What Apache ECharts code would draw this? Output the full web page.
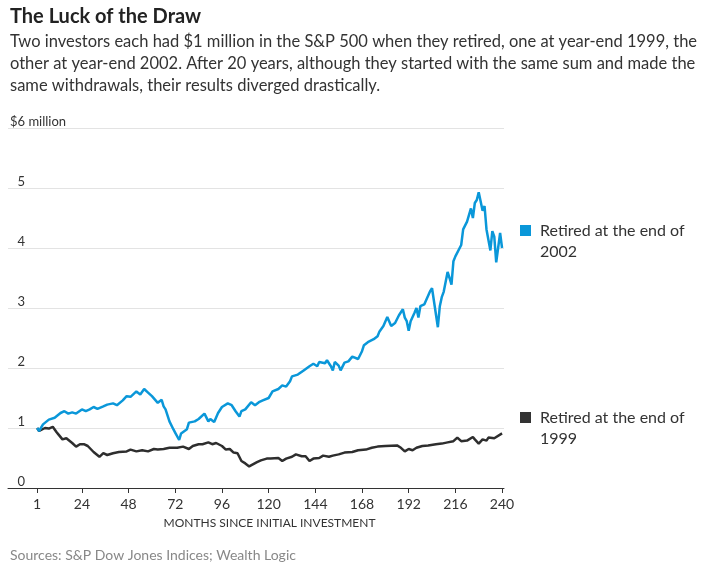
<!DOCTYPE html>
<html>
<head>
<meta charset="utf-8">
<script src="https://cdn.jsdelivr.net/npm/echarts@6/dist/echarts.min.js"></script>
<style>
  html, body { margin: 0; padding: 0; background: #fff; }
  #chart { width: 708px; height: 576px; }
</style>
</head>
<body>
<div id="chart"></div>
<script>
const FONT = 'Lato, "Noto Sans", sans-serif'

// months since initial investment
const monthsRetired2002 = [1, 2, 4, 7, 10, 13, 15, 17, 19, 21, 24, 26, 28, 30, 32, 35, 37, 40, 42, 45, 47, 49, 52, 54, 56, 58, 60, 61, 63, 65, 66, 67, 69, 71, 72, 74, 75, 78, 79, 82, 84, 85, 87, 89, 90, 92, 94, 96, 99, 101, 103, 105, 106, 108, 111, 113, 115, 117, 120, 122, 125, 126, 127, 129, 131, 132, 133, 135, 138, 139, 141, 143, 145, 146, 147, 149, 150, 152, 153, 154, 156, 157, 159, 161, 163, 164, 166, 168, 169, 171, 174, 176, 177, 179, 181, 183, 185, 187, 189, 190, 191, 192, 193, 195, 196, 197, 198, 200, 201, 203, 204, 205, 207, 208, 209, 210, 212, 213, 214, 215, 216, 217, 219, 220, 222, 224, 225, 226, 227, 228, 230, 231, 232, 233, 234, 235, 236, 237, 239, 240]
const retired2002 = [1.00, 0.95, 1.06, 1.14, 1.17, 1.25, 1.28, 1.24, 1.26, 1.24, 1.31, 1.28, 1.31, 1.35, 1.32, 1.36, 1.39, 1.41, 1.38, 1.46, 1.53, 1.52, 1.61, 1.56, 1.65, 1.59, 1.53, 1.54, 1.42, 1.47, 1.36, 1.31, 1.11, 0.98, 0.92, 0.80, 0.91, 0.98, 1.09, 1.11, 1.15, 1.17, 1.24, 1.11, 1.15, 1.10, 1.25, 1.35, 1.41, 1.38, 1.28, 1.19, 1.28, 1.31, 1.43, 1.38, 1.43, 1.46, 1.50, 1.61, 1.65, 1.64, 1.71, 1.69, 1.78, 1.86, 1.84, 1.89, 1.96, 1.98, 2.03, 2.07, 2.03, 2.10, 2.11, 2.08, 2.13, 2.03, 1.96, 2.10, 2.04, 1.96, 2.09, 2.11, 2.19, 2.21, 2.15, 2.28, 2.38, 2.43, 2.48, 2.53, 2.61, 2.70, 2.85, 2.70, 2.75, 2.88, 2.98, 2.84, 2.78, 2.62, 2.78, 2.92, 3.00, 2.84, 3.03, 3.06, 3.09, 3.28, 3.33, 3.31, 2.68, 3.03, 3.18, 3.27, 3.60, 3.50, 3.39, 3.78, 3.86, 3.88, 4.05, 4.31, 4.44, 4.66, 4.50, 4.75, 4.80, 4.93, 4.62, 4.70, 4.31, 4.28, 3.96, 4.28, 4.19, 3.76, 4.25, 4.00]

const monthsRetired1999 = [1, 2, 5, 7, 9, 11, 12, 14, 16, 17, 19, 21, 23, 25, 27, 28, 30, 31, 33, 35, 37, 38, 40, 43, 47, 49, 52, 55, 58, 61, 63, 66, 69, 73, 76, 79, 81, 84, 86, 89, 91, 93, 96, 98, 100, 102, 104, 106, 108, 110, 111, 114, 116, 119, 121, 125, 127, 129, 132, 134, 137, 139, 141, 143, 146, 148, 151, 153, 156, 159, 163, 166, 170, 173, 176, 180, 186, 188, 190, 192, 194, 196, 199, 202, 206, 209, 212, 215, 217, 219, 222, 225, 226, 228, 230, 232, 233, 236, 237, 240]
const retired1999 = [1.00, 0.95, 1.00, 0.99, 1.02, 0.93, 0.89, 0.81, 0.83, 0.80, 0.75, 0.69, 0.73, 0.73, 0.70, 0.67, 0.60, 0.59, 0.52, 0.58, 0.55, 0.52, 0.58, 0.60, 0.61, 0.64, 0.61, 0.63, 0.61, 0.65, 0.64, 0.65, 0.67, 0.67, 0.69, 0.65, 0.70, 0.73, 0.73, 0.76, 0.73, 0.75, 0.70, 0.64, 0.65, 0.59, 0.58, 0.45, 0.41, 0.36, 0.39, 0.43, 0.46, 0.49, 0.49, 0.50, 0.45, 0.49, 0.52, 0.56, 0.53, 0.53, 0.45, 0.49, 0.50, 0.54, 0.52, 0.54, 0.56, 0.59, 0.60, 0.63, 0.64, 0.67, 0.69, 0.70, 0.71, 0.67, 0.61, 0.65, 0.63, 0.67, 0.70, 0.71, 0.73, 0.74, 0.76, 0.78, 0.84, 0.78, 0.79, 0.85, 0.81, 0.74, 0.81, 0.79, 0.84, 0.83, 0.85, 0.91]

const monthTicks = [1, 24, 48, 72, 96, 120, 144, 168, 192, 216, 240]
const name2002 = 'Retired at the end of 2002'
const name1999 = 'Retired at the end of 1999'

const toPairs = (xs, ys) => xs.map((m, i) => [m, ys[i]])

// square icon at the top of a taller box so it sits beside the first text line
const topSquare = 'path://M0,0H11V11H0Z M0,32H11'

const legendBase = {
  orient: 'vertical',
  left: 520,
  padding: 0,
  icon: topSquare,
  itemWidth: 11,
  itemHeight: 32,
  selectedMode: false,
  itemStyle: { borderWidth: 0 },
  formatter: n => n.replace(' of ', ' of\n'),
  textStyle: { fontFamily: FONT, fontSize: 16, lineHeight: 21, color: '#333', padding: [0, 0, 0, 4] }
}

const chart = echarts.init(document.getElementById('chart'))
chart.setOption({
  animation: false,
  backgroundColor: '#fff',
  title: [
    {
      text: 'The Luck of the Draw',
      subtext: 'Two investors each had $1 million in the S&P 500 when they retired, one at year-end 1999, the\nother at year-end 2002. After 20 years, although they started with the same sum and made the\nsame withdrawals, their results diverged drastically.',
      left: 10,
      top: 5,
      padding: 0,
      itemGap: 2,
      textStyle: { fontFamily: FONT, fontSize: 20, fontWeight: 'bold', color: '#222', lineHeight: 24 },
      subtextStyle: { fontFamily: FONT, fontSize: 16.5, color: '#333', lineHeight: 22 }
    },
    {
      text: 'Sources: S&P Dow Jones Indices; Wealth Logic',
      left: 10,
      top: 548,
      padding: 0,
      textStyle: { fontFamily: FONT, fontSize: 14, fontWeight: 'normal', color: '#888' }
    }
  ],
  legend: [
    Object.assign({}, legendBase, { data: [name2002], top: 220 }),
    Object.assign({}, legendBase, { data: [name1999], top: 407 })
  ],
  grid: { left: 8, right: 204, top: 128, bottom: 88 },
  xAxis: {
    type: 'value',
    min: -14,
    max: 241,
    name: 'MONTHS SINCE INITIAL INVESTMENT',
    nameLocation: 'middle',
    nameGap: 29,
    nameTextStyle: { fontFamily: FONT, fontSize: 12, color: '#333', padding: [0, 0, 0, 27] },
    axisLine: { lineStyle: { color: '#333', width: 1 } },
    axisTick: { show: true, length: 5, customValues: monthTicks, lineStyle: { color: '#333' } },
    axisLabel: { customValues: monthTicks, margin: 9, fontFamily: FONT, fontSize: 14, color: '#333' },
    splitLine: { show: false }
  },
  yAxis: {
    type: 'value',
    min: 0,
    max: 6,
    interval: 1,
    axisLine: { show: false },
    axisTick: { show: false },
    axisLabel: {
      inside: true,
      margin: 2,
      verticalAlign: 'bottom',
      fontFamily: FONT,
      fontSize: 13,
      color: '#333',
      formatter: v => v === 6 ? '$6 million' : '{h|$}' + v,
      rich: { h: { color: 'transparent', fontFamily: FONT, fontSize: 13 } }
    },
    splitLine: { lineStyle: { color: '#e3e3e3', width: 1 } }
  },
  series: [
    {
      name: name1999,
      type: 'line',
      data: toPairs(monthsRetired1999, retired1999),
      showSymbol: false,
      symbol: 'none',
      color: '#333',
      lineStyle: { color: '#2e2e2e', width: 2.5 }
    },
    {
      name: name2002,
      type: 'line',
      data: toPairs(monthsRetired2002, retired2002),
      showSymbol: false,
      symbol: 'none',
      color: '#0a97d9',
      lineStyle: { color: '#0a97d9', width: 2.5 }
    }
  ]
})
</script>
</body>
</html>
